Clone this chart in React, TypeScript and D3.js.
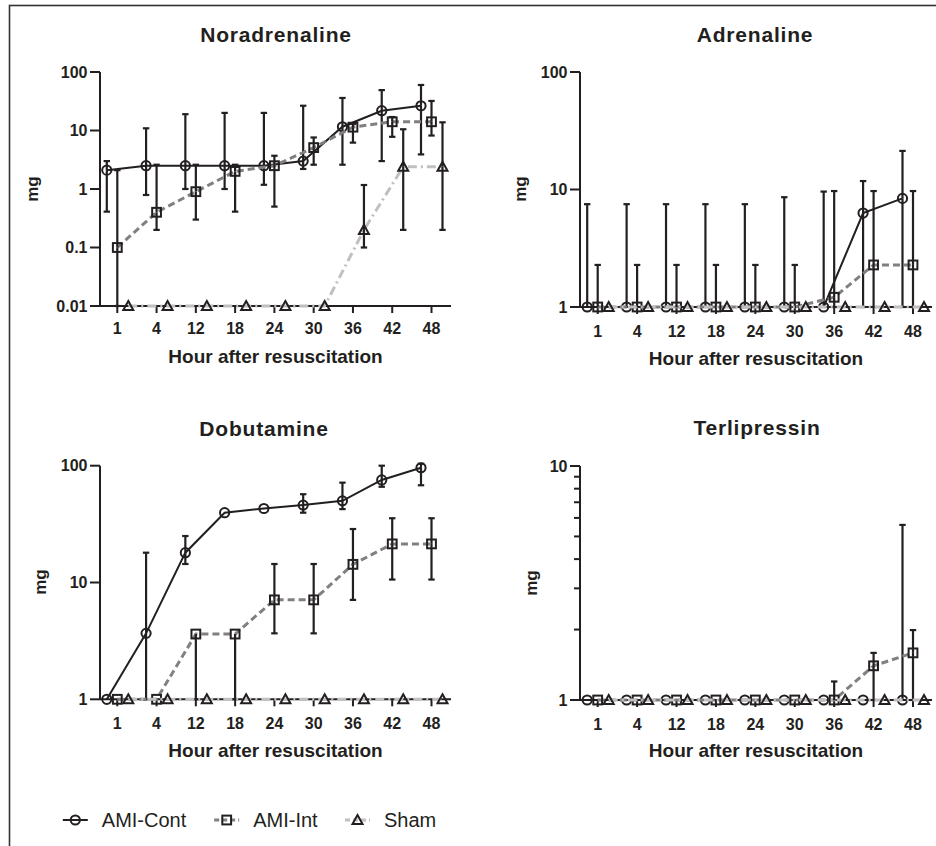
import React from 'react';
import * as d3 from 'd3';

// ---------- data ----------
const hours = ['1', '4', '12', '18', '24', '30', '36', '42', '48'];
const seriesNames = ['AMI-Cont', 'AMI-Int', 'Sham'];
const panelTitles = ['Noradrenaline', 'Adrenaline', 'Dobutamine', 'Terlipressin'];
const xAxisTitle = 'Hour after resuscitation';
const yAxisTitle = 'mg';

// Noradrenaline
const noraContMean = [2.1, 2.5, 2.5, 2.5, 2.5, 3.0, 11.6, 21.8, 26.5];
const noraContLow = [0.41, 0.79, 1.0, 1.0, 1.18, 2.2, 2.6, 3.0, 3.9];
const noraContHigh = [3.0, 10.9, 19, 20, 20, 26.5, 36, 49, 60];
const noraIntMean = [0.1, 0.4, 0.9, 2.0, 2.5, 5.1, 11.4, 14.1, 14.1];
const noraIntLow = [0.01, 0.2, 0.3, 0.41, 0.5, 2.6, 6.2, 7.8, 8.2];
const noraIntHigh = [2.1, 2.6, 2.6, 2.6, 3.7, 7.6, 13, 17, 32];
const noraShamMean = [0.01, 0.01, 0.01, 0.01, 0.01, 0.01, 0.2, 2.4, 2.4];
const noraShamLow = [0.01, 0.01, 0.01, 0.01, 0.01, 0.01, 0.1, 0.2, 0.2];
const noraShamHigh = [0.01, 0.01, 0.01, 0.01, 0.01, 0.01, 1.17, 10.5, 13.8];

// Adrenaline
const adrContMean = [1, 1, 1, 1, 1, 1, 1, 6.3, 8.4];
const adrContLow = [1, 1, 1, 1, 1, 1, 1, 1, 1];
const adrContHigh = [7.5, 7.5, 7.5, 7.5, 7.5, 8.6, 9.6, 11.8, 21.3];
const adrIntMean = [1, 1, 1, 1, 1, 1, 1.21, 2.28, 2.28];
const adrIntLow = [1, 1, 1, 1, 1, 1, 1, 1, 1];
const adrIntHigh = [2.28, 2.28, 2.28, 2.28, 2.28, 2.28, 9.7, 9.7, 9.7];
const adrShamMean = [1, 1, 1, 1, 1, 1, 1, 1, 1];

// Dobutamine
const dobContMean = [1, 3.67, 18, 39.6, 43, 46, 50, 75.5, 96];
const dobContLow = [1, 1, 14.4, 39.6, 43, 39.6, 42.5, 66, 68];
const dobContHigh = [1, 18, 25, 39.6, 43, 57, 71.6, 100, 104];
const dobIntMean = [1, 1, 3.62, 3.62, 7.1, 7.1, 14.3, 21.4, 21.4];
const dobIntLow = [1, 1, 1, 1, 3.67, 3.67, 7.1, 10.6, 10.6];
const dobIntHigh = [1, 1, 3.62, 3.62, 14.4, 14.4, 28.7, 35.5, 35.5];
const dobShamMean = [1, 1, 1, 1, 1, 1, 1, 1, 1];

// Terlipressin
const terContMean = [1, 1, 1, 1, 1, 1, 1, 1, 1];
const terContHigh = [1, 1, 1, 1, 1, 1, 1, 1, 5.6];
const terIntMean = [1, 1, 1, 1, 1, 1, 1, 1.4, 1.59];
const terIntLow = [1, 1, 1, 1, 1, 1, 1, 1, 1];
const terIntHigh = [1, 1, 1, 1, 1, 1, 1.2, 1.59, 1.99];
const terShamMean = [1, 1, 1, 1, 1, 1, 1, 1, 1];

const noraTicks = [0.01, 0.1, 1, 10, 100];
const adrTicks = [1, 10, 100];
const dobTicks = [1, 10, 100];
const terTicks = [1, 10];
const terMinorTicks = [2, 3, 4, 5, 6, 7, 8, 9];

// ---------- styles / layout ----------
const FONT = '"Liberation Sans", Arial, Helvetica, sans-serif';
const INK = '#231f20';

const seriesStyle: Record<string, any> = {
  'AMI-Cont': { stroke: INK, width: 2, dash: undefined, marker: 'circle', offset: -10.5 },
  'AMI-Int': { stroke: '#808080', width: 3, dash: '7,4', marker: 'square', offset: 0 },
  'Sham': { stroke: '#c0c0c0', width: 3, dash: '9,4,2,4', marker: 'triangle', offset: 11 },
};

type S = { name: string; mean: number[]; low: number[]; high: number[] };

const panels = [
  {
    title: panelTitles[0], series: [
      { name: seriesNames[0], mean: noraContMean, low: noraContLow, high: noraContHigh },
      { name: seriesNames[1], mean: noraIntMean, low: noraIntLow, high: noraIntHigh },
      { name: seriesNames[2], mean: noraShamMean, low: noraShamLow, high: noraShamHigh },
    ] as S[],
    ticks: noraTicks, minor: [] as number[], domain: [0.01, 100],
    yRange: [306, 72], xRange: [117.3, 431.5], ax0: 100, ax1: 451,
    titleX: 276, titleY: 42, tickY: 334, axTitleX: 275.5, axTitleY: 363, mgX: 38, mgY: 189,
  },
  {
    title: panelTitles[1], series: [
      { name: seriesNames[0], mean: adrContMean, low: adrContLow, high: adrContHigh },
      { name: seriesNames[1], mean: adrIntMean, low: adrIntLow, high: adrIntHigh },
      { name: seriesNames[2], mean: adrShamMean, low: adrShamMean, high: adrShamMean },
    ] as S[],
    ticks: adrTicks, minor: [] as number[], domain: [1, 100],
    yRange: [307, 72], xRange: [597.7, 913], ax0: 580, ax1: 932,
    titleX: 755, titleY: 42, tickY: 336.5, axTitleX: 756, axTitleY: 365, mgX: 526, mgY: 189,
  },
  {
    title: panelTitles[2], series: [
      { name: seriesNames[0], mean: dobContMean, low: dobContLow, high: dobContHigh },
      { name: seriesNames[1], mean: dobIntMean, low: dobIntLow, high: dobIntHigh },
      { name: seriesNames[2], mean: dobShamMean, low: dobShamMean, high: dobShamMean },
    ] as S[],
    ticks: dobTicks, minor: [] as number[], domain: [1, 100],
    yRange: [699.3, 465.7], xRange: [117.3, 431.5], ax0: 100, ax1: 451,
    titleX: 264, titleY: 436, tickY: 729, axTitleX: 275.5, axTitleY: 757, mgX: 46, mgY: 582,
  },
  {
    title: panelTitles[3], series: [
      { name: seriesNames[0], mean: terContMean, low: terContMean, high: terContHigh },
      { name: seriesNames[1], mean: terIntMean, low: terIntLow, high: terIntHigh },
      { name: seriesNames[2], mean: terShamMean, low: terShamMean, high: terShamMean },
    ] as S[],
    ticks: terTicks, minor: terMinorTicks, domain: [1, 10],
    yRange: [700, 466], xRange: [597.7, 913], ax0: 580, ax1: 932,
    titleX: 757, titleY: 435, tickY: 730, axTitleX: 756, axTitleY: 757, mgX: 537, mgY: 583,
  },
];

function Marker({ type, x, y }: { type: string; x: number; y: number }) {
  const common = { fill: 'none', stroke: INK, strokeWidth: 2 };
  if (type === 'circle') return <circle cx={x} cy={y} r={4.6} {...common} />;
  if (type === 'square') return <rect x={x - 4.4} y={y - 4.4} width={8.8} height={8.8} {...common} />;
  return <path d={`M${x},${y - 5}L${x + 5},${y + 4}L${x - 5},${y + 4}Z`} {...common} strokeLinejoin="miter" />;
}

function Panel({ p }: { p: (typeof panels)[number] }) {
  const x = d3.scalePoint<string>().domain(hours).range(p.xRange as [number, number]);
  const y = d3.scaleLog().domain(p.domain).range(p.yRange);
  const yBase = y(p.domain[0]);
  const yTop = y(p.domain[1]);
  const fmt = (v: number) => String(v);
  const cap = 3.2;
  return (
    <g>
      <text x={p.titleX} y={p.titleY} textAnchor="middle" fontFamily={FONT} fontWeight="bold" fontSize={21} letterSpacing={0.8} fill={INK}>{p.title}</text>
      {/* y axis */}
      <line x1={p.ax0} x2={p.ax0} y1={yTop} y2={yBase} stroke={INK} strokeWidth={2} />
      {p.ticks.map((t) => (
        <g key={'yt' + t}>
          <line x1={p.ax0 - 10} x2={p.ax0} y1={y(t)} y2={y(t)} stroke={INK} strokeWidth={2} />
          <text x={p.ax0 - 12.5} y={y(t)} dy="0.36em" textAnchor="end" fontFamily={FONT} fontWeight="bold" fontSize={16} fill={INK}>{fmt(t)}</text>
        </g>
      ))}
      {p.minor.map((t) => (
        <line key={'ym' + t} x1={p.ax0 - 6} x2={p.ax0} y1={y(t)} y2={y(t)} stroke={INK} strokeWidth={2} />
      ))}
      <text transform={`translate(${p.mgX},${p.mgY}) rotate(-90)`} textAnchor="middle" fontFamily={FONT} fontWeight="bold" fontSize={17} fill={INK}>{yAxisTitle}</text>
      {/* x axis */}
      <line x1={p.ax0} x2={p.ax1} y1={yBase} y2={yBase} stroke={INK} strokeWidth={2} />
      {hours.map((h) => (
        <g key={'xt' + h}>
          <line x1={x(h)} x2={x(h)} y1={yBase} y2={yBase + 7} stroke={INK} strokeWidth={2} />
          <text x={x(h)} y={p.tickY} textAnchor="middle" fontFamily={FONT} fontWeight="bold" fontSize={16} fill={INK}>{h}</text>
        </g>
      ))}
      <text x={p.axTitleX} y={p.axTitleY} textAnchor="middle" fontFamily={FONT} fontWeight="bold" fontSize={19} fill={INK}>{xAxisTitle}</text>
      {/* series */}
      {p.series.map((s) => {
        const st = seriesStyle[s.name];
        const px = (i: number) => (x(hours[i]) as number) + st.offset;
        const line = d3.line<number>().x((_, i) => px(i)).y((v) => y(v));
        return (
          <g key={s.name}>
            <path d={line(s.mean) || ''} fill="none" stroke={st.stroke} strokeWidth={st.width} strokeDasharray={st.dash} />
            {s.mean.map((m, i) => {
              const cx = px(i);
              const parts: any[] = [];
              if (s.high[i] > m) {
                parts.push(<line key="hu" x1={cx} x2={cx} y1={y(m)} y2={y(s.high[i])} stroke={INK} strokeWidth={2.2} />);
                parts.push(<line key="hc" x1={cx - cap} x2={cx + cap} y1={y(s.high[i])} y2={y(s.high[i])} stroke={INK} strokeWidth={2.2} />);
              }
              if (s.low[i] < m) {
                parts.push(<line key="ld" x1={cx} x2={cx} y1={y(m)} y2={y(s.low[i])} stroke={INK} strokeWidth={2.2} />);
                parts.push(<line key="lc" x1={cx - cap} x2={cx + cap} y1={y(s.low[i])} y2={y(s.low[i])} stroke={INK} strokeWidth={2.2} />);
              }
              return <g key={'e' + i}>{parts}</g>;
            })}
            {s.mean.map((m, i) => (
              <Marker key={'m' + i} type={st.marker} x={px(i)} y={y(m)} />
            ))}
          </g>
        );
      })}
    </g>
  );
}

const legendMarkerX = [75.3, 226.7, 357.5];

export default function App() {
  return (
    <svg width={936} height={846} style={{ position: 'absolute', left: 0, top: 0, background: '#fff' }}>
      <rect x={0} y={0} width={936} height={846} fill="#fff" />
      <rect x={9.5} y={5.5} width={950} height={860} fill="none" stroke="#333" strokeWidth={1.6} />
      {panels.map((p) => <Panel key={p.title} p={p} />)}
      {seriesNames.map((n, i) => {
        const st = seriesStyle[n];
        const cx = legendMarkerX[i];
        return (
          <g key={n}>
            <line x1={cx - 12.5} x2={cx + 12.5} y1={820} y2={820} stroke={st.stroke} strokeWidth={st.width} strokeDasharray={n === 'AMI-Cont' ? undefined : '5,3'} />
            <Marker type={st.marker} x={cx} y={820} />
            <text x={cx + 26.5} y={827} fontFamily={FONT} fontSize={20} fill={INK}>{n}</text>
          </g>
        );
      })}
    </svg>
  );
}
